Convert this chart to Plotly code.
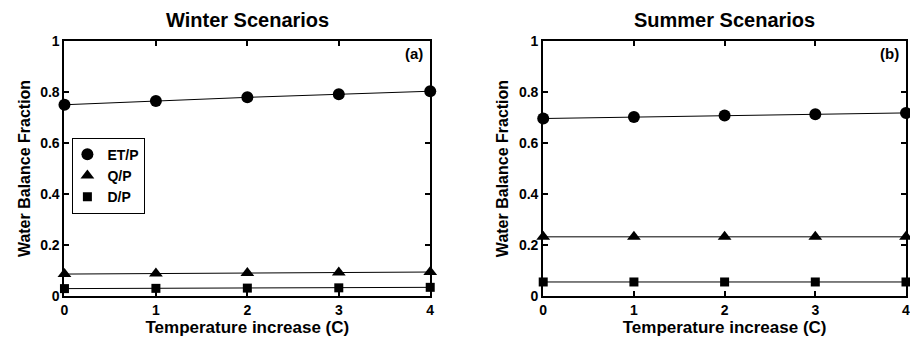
import plotly.graph_objects as go
from plotly.subplots import make_subplots

temps = [0, 1, 2, 3, 4]

winter_et = [0.750, 0.765, 0.779, 0.791, 0.803]
winter_q = [0.086, 0.088, 0.090, 0.092, 0.094]
winter_d = [0.029, 0.030, 0.031, 0.032, 0.034]

summer_et = [0.696, 0.702, 0.708, 0.713, 0.718]
summer_q = [0.232, 0.232, 0.232, 0.232, 0.232]
summer_d = [0.055, 0.055, 0.055, 0.055, 0.055]

series_names = ["ET/P", "Q/P", "D/P"]
symbols = ["circle", "triangle-up", "square"]
sizes = [12, 12, 9]

panel_titles = ["Winter Scenarios", "Summer Scenarios"]
panel_tags = ["(a)", "(b)"]
x_ticks = [0, 1, 2, 3, 4]
y_ticks = [0, 0.2, 0.4, 0.6, 0.8, 1]
y_tick_text = ["0", "0.2", "0.4", "0.6", "0.8", "1"]

FONT = "Liberation Sans, Arial, Helvetica, sans-serif"

fig = make_subplots(rows=1, cols=2)

panels = [(winter_et, winter_q, winter_d), (summer_et, summer_q, summer_d)]
for p, data in enumerate(panels):
    col = p + 1
    for i, ys in enumerate(data):
        fig.add_trace(go.Scatter(x=temps, y=ys, mode="lines",
                                 line=dict(color="black", width=1),
                                 showlegend=False, cliponaxis=False,
                                 hoverinfo="skip"), row=1, col=col)
        fig.add_trace(go.Scatter(x=temps, y=ys, mode="markers",
                                 name=series_names[i],
                                 marker=dict(symbol=symbols[i], size=sizes[i], color="black"),
                                 showlegend=(p == 0), cliponaxis=False), row=1, col=col)

W, H = 910, 340
domains = [[61 / W, 430 / W], [544 / W, 1.0]]

axis_common = dict(showline=True, linecolor="black", linewidth=2, mirror="ticks",
                   ticks="inside", ticklen=5, tickwidth=1.5, tickcolor="black",
                   showgrid=False, zeroline=False, ticklabeloverflow="allow",
                   tickfont=dict(family=FONT, size=14, color="black", weight="bold"))

for p in range(2):
    xa = "xaxis" if p == 0 else "xaxis2"
    ya = "yaxis" if p == 0 else "yaxis2"
    fig.layout[xa].update(domain=domains[p], range=[0, 4], tickvals=x_ticks,
                          title=dict(text="<b>Temperature increase (C)</b>", standoff=1,
                                     font=dict(family=FONT, size=17, color="black")),
                          **axis_common)
    fig.layout[ya].update(range=[0, 1], tickvals=y_ticks, ticktext=y_tick_text,
                          title=dict(text="<b>Water Balance Fraction</b>", standoff=6,
                                     font=dict(family=FONT, size=16, color="black")),
                          **axis_common)
    xref = "x domain" if p == 0 else "x2 domain"
    yref = "y domain" if p == 0 else "y2 domain"
    fig.add_annotation(text="<b>" + panel_titles[p] + "</b>", xref=xref, yref=yref,
                       x=0.5, y=1.083, xanchor="center", yanchor="middle", showarrow=False,
                       font=dict(family=FONT, size=20, color="black"))
    fig.add_annotation(text="<b>" + panel_tags[p] + "</b>", xref=xref, yref=yref,
                       x=0.985, y=0.952, xanchor="right", yanchor="middle", showarrow=False,
                       font=dict(family=FONT, size=15, color="black"))

fig.update_layout(
    width=W, height=H,
    margin=dict(l=0, r=0, t=41, b=44),
    paper_bgcolor="white", plot_bgcolor="white",
    font=dict(family=FONT, size=14, color="black", weight="bold"),
    legend=dict(x=69 / W, y=(H - 129) / H, xanchor="left", yanchor="top",
                bordercolor="black", borderwidth=1, bgcolor="white",
                font=dict(family=FONT, size=14, color="black", weight="bold"),
                tracegroupgap=0, itemwidth=30, indentation=-6),
)

fig.write_html("out.html")
